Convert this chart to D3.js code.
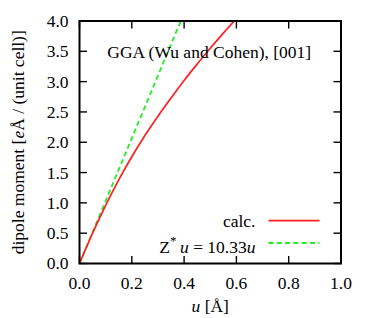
<!DOCTYPE html>
<html>
<head>
<meta charset="utf-8">
<script src="https://cdn.jsdelivr.net/npm/d3@7"></script>
<style>
  body { margin: 0; background: #fff; }
</style>
</head>
<body>
<svg id="chart" width="371" height="318"></svg>
<script>
// displacement u [Å] and dipole moment (calc.)
var calcU = [0, 0.05, 0.10, 0.15, 0.20, 0.25, 0.30, 0.35, 0.40, 0.45, 0.50, 0.55, 0.60];
var calcP = [0, 0.50, 0.96, 1.38, 1.76, 2.11, 2.43, 2.73, 3.02, 3.29, 3.55, 3.80, 4.04];

// Z* u line
var zStar = 10.33;
var zLineU = [0, 0.40];
var zLineP = [0, 4.132];

var xTicks = [0, 0.2, 0.4, 0.6, 0.8, 1.0];
var yTicks = [0, 0.5, 1.0, 1.5, 2.0, 2.5, 3.0, 3.5, 4.0];

var svg = d3.select('#chart');

var margin = { top: 21, right: 30, bottom: 54.5, left: 79.5 };
var w = 371 - margin.left - margin.right;
var h = 318 - margin.top - margin.bottom;

var x = d3.scaleLinear().domain([0, 1]).range([0, w]);
var y = d3.scaleLinear().domain([0, 4]).range([h, 0]);

var g = svg.append('g')
  .attr('transform', 'translate(' + margin.left + ',' + margin.top + ')');

g.append('clipPath').attr('id', 'clip')
  .append('rect').attr('width', w).attr('height', h);

// ticks (inward, mirrored)
var tickLen = 7.5;
var tickG = g.append('g').attr('stroke', '#000').attr('stroke-width', 1.4);
xTicks.forEach(function(d) {
  tickG.append('line').attr('x1', x(d)).attr('x2', x(d)).attr('y1', h).attr('y2', h - tickLen);
  tickG.append('line').attr('x1', x(d)).attr('x2', x(d)).attr('y1', 0).attr('y2', tickLen);
});
yTicks.forEach(function(d) {
  tickG.append('line').attr('x1', 0).attr('x2', tickLen).attr('y1', y(d)).attr('y2', y(d));
  tickG.append('line').attr('x1', w).attr('x2', w - tickLen).attr('y1', y(d)).attr('y2', y(d));
});

// tick labels
g.selectAll('.xlab').data(xTicks).enter().append('text')
  .attr('x', function(d) { return x(d); })
  .attr('y', h + 25)
  .attr('text-anchor', 'middle')
  .text(d3.format('.1f'));

g.selectAll('.ylab').data(yTicks).enter().append('text')
  .attr('x', -11)
  .attr('y', function(d) { return y(d); })
  .attr('dy', '0.34em')
  .attr('text-anchor', 'end')
  .text(d3.format('.1f'));

// lines
var line = d3.line()
  .x(function(d) { return x(d[0]); })
  .y(function(d) { return y(d[1]); });

var plot = g.append('g').attr('clip-path', 'url(#clip)');

plot.append('path')
  .datum(d3.zip(zLineU, zLineP))
  .attr('fill', 'none')
  .attr('stroke', '#22ee22')
  .attr('stroke-width', 1.8)
  .attr('stroke-dasharray', '5,3.3')
  .attr('d', line);

plot.append('path')
  .datum(d3.zip(calcU, calcP))
  .attr('fill', 'none')
  .attr('stroke', '#ff2020')
  .attr('stroke-width', 1.7)
  .attr('d', line.curve(d3.curveMonotoneX));

// frame
g.append('rect')
  .attr('width', w).attr('height', h)
  .attr('fill', 'none')
  .attr('stroke', '#000')
  .attr('stroke-width', 2);

// title
g.append('text')
  .attr('x', w / 2 - 1)
  .attr('y', 37)
  .attr('text-anchor', 'middle')
  .text('GGA (Wu and Cohen), [001]');

// legend
g.append('text')
  .attr('x', 176)
  .attr('y', 205.7)
  .attr('text-anchor', 'end')
  .text('calc.');
g.append('line')
  .attr('x1', 189).attr('x2', 240)
  .attr('y1', 199.7).attr('y2', 199.7)
  .attr('stroke', '#ff2020').attr('stroke-width', 1.8);

var zt = g.append('text')
  .attr('x', 176)
  .attr('y', 231.5)
  .attr('text-anchor', 'end');
zt.append('tspan').text('Z');
zt.append('tspan').attr('dy', -8).style('font-size', '13px').text('*');
zt.append('tspan').attr('dy', 8).style('font-style', 'italic').text('\u2009u');
zt.append('tspan').text(' = ' + zStar.toFixed(2));
zt.append('tspan').style('font-style', 'italic').text('u');
g.append('line')
  .attr('x1', 189).attr('x2', 240)
  .attr('y1', 222).attr('y2', 222)
  .attr('stroke', '#22ee22').attr('stroke-width', 1.8)
  .attr('stroke-dasharray', '5,3.3');

// axis titles
var xt = svg.append('text')
  .attr('x', margin.left + w / 2)
  .attr('y', 312)
  .attr('text-anchor', 'middle');
xt.append('tspan').style('font-style', 'italic').text('u');
xt.append('tspan').text(' [Å]');

var yt = svg.append('text')
  .attr('transform', 'translate(23.5,' + (margin.top + h / 2) + ') rotate(-90)')
  .attr('text-anchor', 'middle');
yt.append('tspan').text('dipole moment [');
yt.append('tspan').style('font-style', 'italic').text('e');
yt.append('tspan').text('Å / (unit cell)]');

// serif face on every label
svg.selectAll('text')
  .style('font-family', '"Liberation Serif"')
  .style('font-size', '17.5px')
  .style('fill', '#000');
zt.select('tspan:nth-child(2)').style('font-size', '13px');
</script>
</body>
</html>
